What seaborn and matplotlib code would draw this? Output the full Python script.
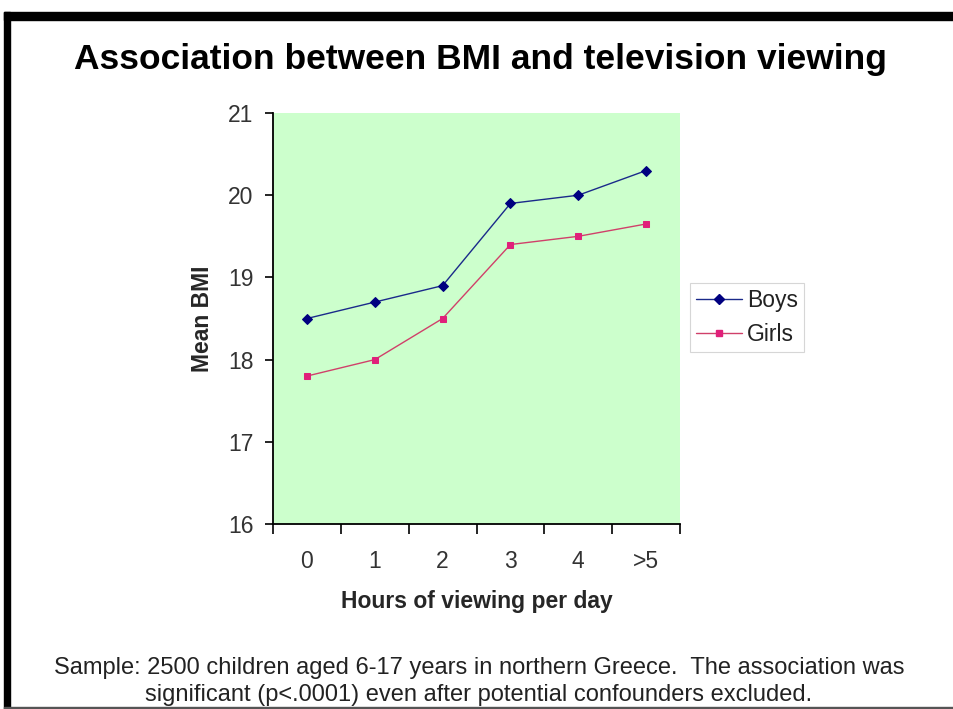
import matplotlib
matplotlib.use("Agg")
import matplotlib.pyplot as plt
import matplotlib.patches as mpatches
import matplotlib.lines as mlines
import seaborn as sns
import pandas as pd
import numpy as np

hours = ["0", "1", "2", "3", "4", ">5"]
boys = [18.5, 18.7, 18.9, 19.9, 20.0, 20.3]
girls = [17.8, 18.0, 18.5, 19.4, 19.5, 19.65]
y_ticks = [16, 17, 18, 19, 20, 21]

sns.set_theme(style="white")
plt.rcParams["font.family"] = ["Liberation Sans", "DejaVu Sans"]

df = pd.DataFrame({
    "pos": list(range(len(hours))) * 2,
    "bmi": boys + girls,
    "sex": ["Boys"] * len(boys) + ["Girls"] * len(girls),
})

fig = plt.figure(figsize=(9.54, 7.09), dpi=100)
fig.patch.set_facecolor("white")
ax = fig.add_axes([0.2862, 0.2609, 0.4266, 0.5797])
ax.set_facecolor("#CCFFCC")

line_colors = {"Boys": "#1A2A8A", "Girls": "#D0406A"}
marker_colors = ["#000080", "#E0207A"]
sns.lineplot(data=df, x="pos", y="bmi", hue="sex", style="sex",
             palette=line_colors, markers={"Boys": "D", "Girls": "s"},
             dashes=False, linewidth=1.0, ax=ax, legend=False)
for line, mc in zip(ax.get_lines(), marker_colors):
    line.set_markerfacecolor(mc)
    line.set_markeredgecolor(mc)
    line.set_markersize(5)

ax.set_xlim(-0.5, len(hours) - 0.5)
ax.set_ylim(16, 21)
ax.set_yticks(y_ticks)
ax.set_yticklabels([str(t) for t in y_ticks], fontsize=16.5, color="#333333")
ax.set_xticks(range(len(hours)))
ax.set_xticklabels(hours, fontsize=16.5, color="#333333")
ax.set_xticks(np.arange(-0.5, len(hours), 1.0), minor=True)
ax.tick_params(axis="x", which="major", length=0, pad=19)
ax.tick_params(axis="x", which="minor", length=7, width=1.2, color="black", direction="out", bottom=True)
ax.tick_params(axis="y", length=6, width=1.2, color="black", direction="out", left=True, pad=8)

for side in ["top", "right"]:
    ax.spines[side].set_visible(False)
for side in ["left", "bottom"]:
    ax.spines[side].set_color("black")
    ax.spines[side].set_linewidth(1.3)

ax.set_xlabel("Hours of viewing per day", fontsize=16.5, fontweight="bold", labelpad=12)
ax.set_ylabel("Mean BMI", fontsize=16.5, fontweight="bold", labelpad=10)

handles = [
    mlines.Line2D([], [], color=line_colors["Boys"], marker="D", markersize=5,
                  markerfacecolor=marker_colors[0], markeredgecolor=marker_colors[0], linewidth=1.0),
    mlines.Line2D([], [], color=line_colors["Girls"], marker="s", markersize=5,
                  markerfacecolor=marker_colors[1], markeredgecolor=marker_colors[1], linewidth=1.0),
]
leg = fig.legend(handles, ["Boys", "Girls"], loc="upper left",
                 bbox_to_anchor=(690 / 954, 1 - 283 / 709), fontsize=16.5,
                 frameon=True, fancybox=False, handlelength=2.0, handletextpad=0.25,
                 borderpad=0.25, labelspacing=0.5, borderaxespad=0)
leg.get_frame().set_edgecolor("#CCCCCC")
leg.get_frame().set_linewidth(0.8)
for t in leg.get_texts():
    t.set_color("#222222")

fig.text(480 / 954, 1 - 59 / 709, "Association between BMI and television viewing",
         ha="center", va="center", fontsize=25.5, fontweight="bold", color="black")
fig.text(479 / 954, 1 - 668 / 709,
         "Sample: 2500 children aged 6-17 years in northern Greece.  The association was",
         ha="center", va="center", fontsize=17, color="#222222")
fig.text(479 / 954, 1 - 695 / 709,
         "significant (p<.0001) even after potential confounders excluded.",
         ha="center", va="center", fontsize=17, color="#222222")

# slide frame
fig.patches.append(mpatches.Rectangle((4 / 954, 1 - 20 / 709), 950 / 954, 8 / 709,
                                      transform=fig.transFigure, color="black", zorder=0))
fig.patches.append(mpatches.Rectangle((4 / 954, 0), 6 / 954, 1 - 12 / 709,
                                      transform=fig.transFigure, color="black", zorder=0))
fig.patches.append(mpatches.Rectangle((4 / 954, 0), 950 / 954, 2 / 709,
                                      transform=fig.transFigure, color="#555555", zorder=0))

fig.savefig("out.png", dpi=100)
